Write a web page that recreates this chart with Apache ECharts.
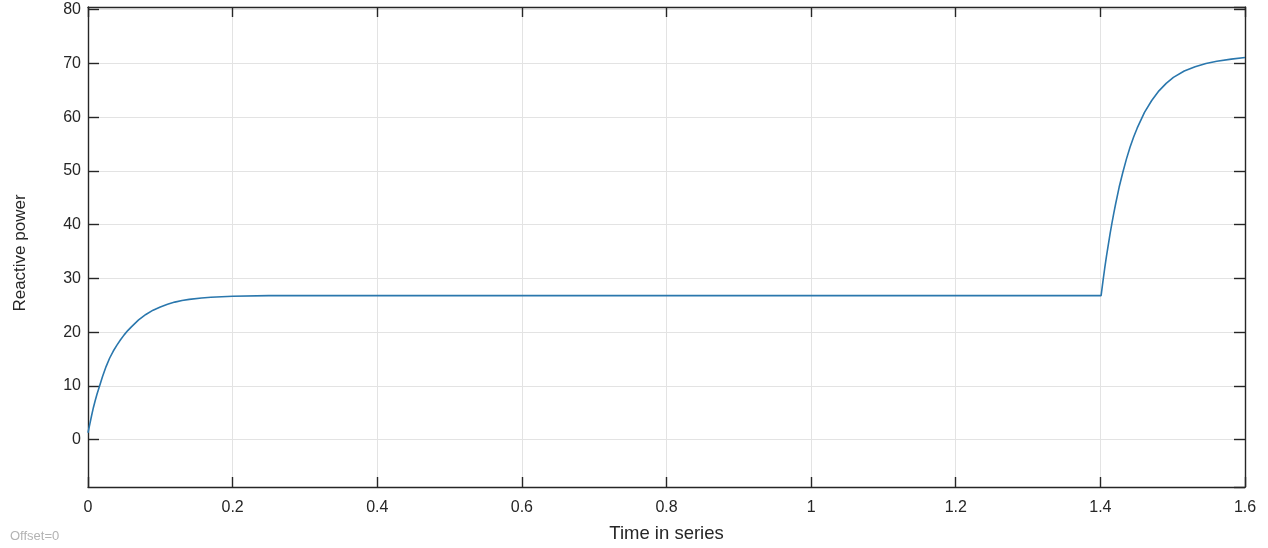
<!DOCTYPE html>
<html>
<head>
<meta charset="utf-8">
<script src="https://cdn.jsdelivr.net/npm/echarts@6/dist/echarts.min.js"></script>
<style>
html,body{margin:0;padding:0;background:#fff;}
#chart{width:1268px;height:548px;}
</style>
</head>
<body>
<div id="chart"></div>
<script>
// Time (s) sample points
var timeValues = [
  0, 0.0025, 0.005, 0.0075, 0.01, 0.0125, 0.016, 0.02, 0.025, 0.03, 0.035, 0.04, 0.045, 0.05,
  0.055, 0.06, 0.07, 0.08, 0.09, 0.1, 0.11, 0.12, 0.13, 0.14, 0.157, 0.17, 0.185, 0.2, 0.25,
  0.3, 0.4, 0.5, 0.6, 0.7, 0.8, 0.9, 1.0, 1.1, 1.2, 1.3, 1.401,
  1.4035, 1.406, 1.4085, 1.411, 1.4135, 1.416, 1.4185, 1.421, 1.426, 1.431, 1.436, 1.441,
  1.446, 1.451, 1.461, 1.471, 1.481, 1.491, 1.501, 1.516, 1.531, 1.546, 1.561, 1.581, 1.6
];
// Reactive power values
var reactivePower = [
  1.3, 2.9, 4.5, 6.0, 7.3, 8.5, 10.0, 11.7, 13.6, 15.2, 16.5, 17.6, 18.6, 19.5,
  20.3, 21.0, 22.3, 23.3, 24.1, 24.7, 25.2, 25.6, 25.9, 26.1, 26.35, 26.5, 26.6, 26.7, 26.8,
  26.8, 26.8, 26.8, 26.8, 26.8, 26.8, 26.8, 26.8, 26.8, 26.8, 26.8, 26.8,
  29.4, 31.9, 34.2, 36.3, 38.4, 40.3, 42.1, 43.8, 47.0, 49.7, 52.2, 54.4,
  56.3, 58.0, 60.9, 63.1, 64.9, 66.3, 67.4, 68.6, 69.4, 70.0, 70.4, 70.8, 71.1
];
var xTickLabels = ['0','0.2','0.4','0.6','0.8','1','1.2','1.4','1.6'];
var yTickLabels = ['0','10','20','30','40','50','60','70','80'];
var xTitle = 'Time in series';
var yTitle = 'Reactive power';
var footNote = 'Offset=0';

var seriesData = timeValues.map(function (t, i) { return [t, reactivePower[i]]; });

var FONT = 'Liberation Sans, Arial, Helvetica, sans-serif';
var chart = echarts.init(document.getElementById('chart'), null, {renderer: 'canvas'});

var option = {
  backgroundColor: '#ffffff',
  animation: false,
  grid: {left: 88, right: 23, top: 7, bottom: 61, containLabel: false},
  graphic: [{
    type: 'text', left: 10, top: 530,
    style: {text: footNote, fill: '#b3b3b3', font: '13px ' + FONT}
  }, {
    type: 'text', x: 20, y: 253, rotation: Math.PI / 2,
    style: {text: yTitle, fill: '#262626', font: '17px ' + FONT, align: 'center', verticalAlign: 'middle'}
  }],
  xAxis: [{
    type: 'value', min: 0, max: 1.6, interval: 0.2, position: 'bottom',
    name: xTitle, nameLocation: 'middle', nameGap: 37,
    nameTextStyle: {fontFamily: FONT, fontSize: 18.5, color: '#262626'},
    axisLine: {show: true, onZero: false, lineStyle: {color: '#262626', width: 1.4}},
    axisTick: {show: true, inside: true, length: 10, lineStyle: {color: '#262626', width: 1.4}},
    axisLabel: {
      fontFamily: FONT, fontSize: 16, color: '#262626', margin: 13,
      formatter: function (v) { var i = Math.round(v / 0.2); return xTickLabels[i] !== undefined ? xTickLabels[i] : ''; }
    },
    splitLine: {show: true, lineStyle: {color: '#e3e3e3', width: 1}}
  }, {
    type: 'value', min: 0, max: 1.6, interval: 0.2, position: 'top',
    axisLine: {show: true, onZero: false, lineStyle: {color: '#262626', width: 1.4}},
    axisTick: {show: true, inside: true, length: 10, lineStyle: {color: '#262626', width: 1.4}},
    axisLabel: {show: false},
    splitLine: {show: false}
  }],
  yAxis: [{
    type: 'value', min: -8.8, max: 80.5, splitNumber: 9, position: 'left',
    axisLine: {show: true, onZero: false, lineStyle: {color: '#262626', width: 1.4}},
    axisTick: {show: true, inside: true, length: 11, lineStyle: {color: '#262626', width: 1.4}},
    axisLabel: {
      fontFamily: FONT, fontSize: 16, color: '#262626', margin: 7,
      showMinLabel: false, showMaxLabel: false,
      formatter: function (v) { var i = Math.round(v / 10); return (Math.abs(v - i * 10) < 1e-6 && yTickLabels[i] !== undefined) ? yTickLabels[i] : ''; }
    },
    splitLine: {show: true, lineStyle: {color: '#e3e3e3', width: 1}}
  }, {
    type: 'value', min: -8.8, max: 80.5, splitNumber: 9, position: 'right',
    axisLine: {show: true, onZero: false, lineStyle: {color: '#262626', width: 1.4}},
    axisTick: {show: true, inside: true, length: 11, lineStyle: {color: '#262626', width: 1.4}},
    axisLabel: {show: false},
    splitLine: {show: false}
  }],
  series: [{
    type: 'line', xAxisIndex: 0, yAxisIndex: 0,
    data: seriesData, smooth: false, showSymbol: false,
    lineStyle: {color: '#2a77ad', width: 1.6}
  }]
};
chart.setOption(option);
</script>
</body>
</html>
